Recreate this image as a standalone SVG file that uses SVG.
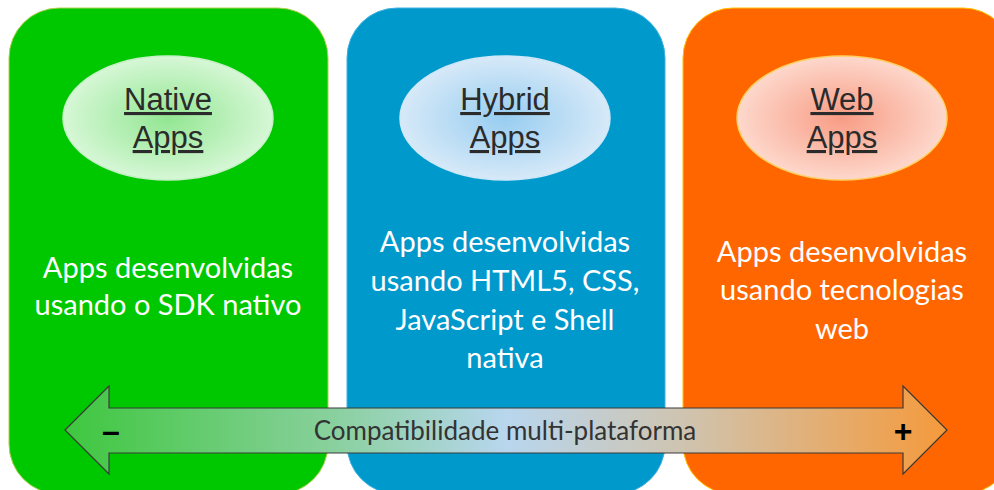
<svg xmlns="http://www.w3.org/2000/svg" width="994" height="490" viewBox="0 0 994 490">
<defs>
<radialGradient id="gG" cx="0.5" cy="0.5" r="0.5"><stop offset="0" stop-color="#92e692"/><stop offset="1" stop-color="#d6f7d6"/></radialGradient>
<radialGradient id="gB" cx="0.5" cy="0.5" r="0.5"><stop offset="0" stop-color="#98cdf0"/><stop offset="1" stop-color="#d6e9f8"/></radialGradient>
<radialGradient id="gO" cx="0.5" cy="0.5" r="0.5"><stop offset="0" stop-color="#f89c84"/><stop offset="1" stop-color="#fdd8cc"/></radialGradient>
<linearGradient id="arr" x1="65" y1="0" x2="947" y2="0" gradientUnits="userSpaceOnUse">
<stop offset="0" stop-color="#3fc73f"/><stop offset="0.3" stop-color="#88d09c"/><stop offset="0.5" stop-color="#b8d6ee"/><stop offset="0.7" stop-color="#cfc4b0"/><stop offset="1" stop-color="#f59a3c"/></linearGradient>
</defs>
<style>
.title{font-family:"Liberation Sans",Arial,sans-serif;font-size:31px;fill:#2b2b2b;text-anchor:middle;text-decoration:underline}
.body{font-family:Lato,"Open Sans",sans-serif;font-size:29px;fill:#ffffff;text-anchor:middle}
.lbl{font-family:Lato,"Open Sans",sans-serif;font-size:26px;fill:#333333;text-anchor:middle}
.sign{font-family:"Liberation Sans",Arial,sans-serif;font-size:32px;font-weight:bold;fill:#000;text-anchor:middle}
.ell{stroke-width:1.5}
</style>
<g id="native">
<rect x="9" y="8" width="319" height="486" rx="50" fill="#00c800" stroke="#b0d050" stroke-width="1"/>
<ellipse cx="168" cy="118" rx="105" ry="62" fill="url(#gG)" stroke="#c8f0c8" class="ell"/>
<text class="title" x="168" y="110">Native</text>
<text class="title" x="168" y="148">Apps</text>
<text class="body" x="168" y="278">Apps desenvolvidas</text>
<text class="body" x="168" y="315">usando o SDK nativo</text>
</g>
<g id="hybrid">
<rect x="347" y="8" width="318" height="486" rx="50" fill="#0099cc" stroke="#40b0e0" stroke-width="1"/>
<ellipse cx="505" cy="118" rx="105" ry="62" fill="url(#gB)" stroke="#d0e8f8" class="ell"/>
<text class="title" x="505" y="110">Hybrid</text>
<text class="title" x="505" y="148">Apps</text>
<text class="body" x="505" y="252">Apps desenvolvidas</text>
<text class="body" x="505" y="291">usando HTML5, CSS,</text>
<text class="body" x="505" y="330">JavaScript e Shell</text>
<text class="body" x="505" y="368">nativa</text>
</g>
<g id="web">
<rect x="683" y="8" width="330" height="486" rx="50" fill="#ff6600" stroke="#ffc000" stroke-width="1"/>
<ellipse cx="842" cy="118" rx="105" ry="62" fill="url(#gO)" stroke="#ffd060" class="ell"/>
<text class="title" x="842" y="110">Web</text>
<text class="title" x="842" y="148">Apps</text>
<text class="body" x="842" y="262">Apps desenvolvidas</text>
<text class="body" x="842" y="300">usando tecnologias</text>
<text class="body" x="842" y="339">web</text>
</g>
<g id="connectors">
<path d="M65,430 L109,386 L109,408 L903,408 L903,386 L947,430 L903,474 L903,453 L109,453 L109,474 Z" fill="url(#arr)" stroke="#3a3a3a" stroke-width="1.2"/>
<text class="lbl" x="505" y="440">Compatibilidade multi-plataforma</text>
<text class="sign" x="111" y="442">–</text>
<text class="sign" x="903" y="442">+</text>
</g>
</svg>
